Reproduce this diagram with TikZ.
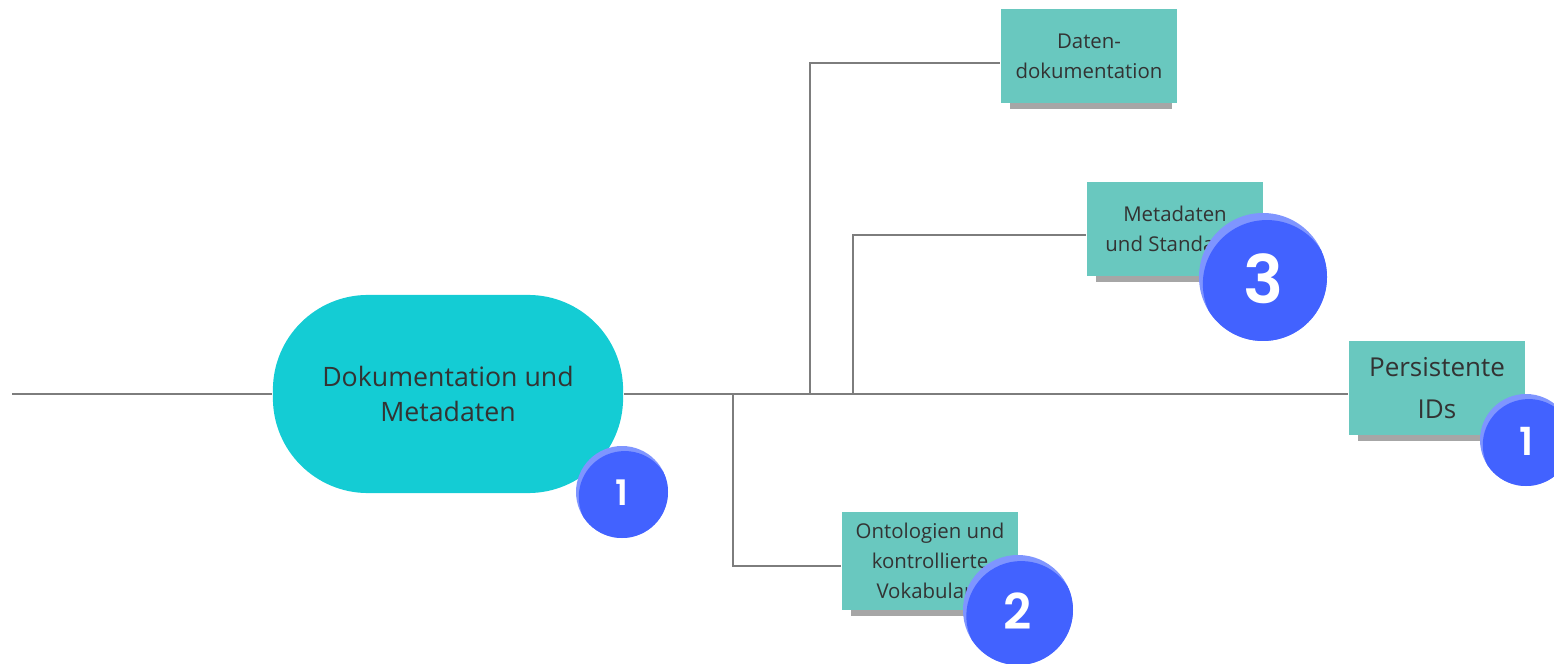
\documentclass[tikz,border=0pt]{standalone}
\usepackage{fontspec}
\setmainfont{Open Sans}
\newfontfamily\badgefont{Poppins}[UprightFont = * SemiBold]
\usepackage{xcolor}
\usetikzlibrary{shadows, calc}
\definecolor{topiccolor}{HTML}{14CCD4}
\definecolor{notecolor}{HTML}{69C8BF}
\definecolor{badgecolor}{HTML}{4262FF}
\definecolor{badgepeel}{HTML}{7F95FF}
\definecolor{linecolor}{HTML}{7D7D7D}
\definecolor{textcolor}{HTML}{333333}

\tikzset{
  topic/.style = {fill = topiccolor, rectangle, rounded corners = 0.95cm,
    minimum width = 3.5cm, minimum height = 1.98cm, align = center,
    text = textcolor, font = \fontsize{7.6}{10}\selectfont},
  note/.style = {fill = notecolor, rectangle, minimum width = 1.76cm,
    minimum height = 0.93cm, align = center, text = textcolor,
    font = \fontsize{5.8}{8.5}\selectfont,
    drop shadow = {shadow xshift = 0.5pt, shadow yshift = -3pt, shadow scale = 0.92,
      opacity = 0.35, fill = black}},
  branch/.style = {draw = linecolor, line width = 0.6pt},
  badgetext/.style = {text = white, inner sep = 0pt}
}

% badge: centre, radius (in px units), name, number, font size
\newcommand{\drawbadge}[5]{%
  \begin{scope}
    \fill [badgepeel] (#1) circle [radius = #2];
    \clip (#1) circle [radius = #2];
    \fill [badgecolor] ($(#1) + (0.06*#2, 0.11*#2)$) circle [radius = #2];
  \end{scope}
  \node [badgetext, font = \badgefont\fontsize{#5}{#5}\selectfont] (#3) at ($(#1) + (0, 0.02*#2)$) {#4};
}

\begin{document}
\begin{tikzpicture}[x = 0.01cm, y = -0.01cm]
        \useasboundingbox (0, 0) rectangle (1554, 664);

        % Nodes
        \node [topic] (thema) at (448, 394) {Dokumentation und\\Metadaten};
        \node [note] (daten) at (1089, 56) {Daten-\\dokumentation};
        \node [note] (standards) at (1175, 229) {Metadaten\\und Standards};
        \node [note, font = \fontsize{7.4}{12}\selectfont] (ids) at (1437, 388) {Persistente\\IDs};
        \node [note] (onto) at (930, 561) {Ontologien und\\kontrollierte\\Vokabulare};

        % Junctions on the main line
        \coordinate (start) at (12, 394);
        \coordinate (j1) at (733, 394);
        \coordinate (j2) at (810, 394);
        \coordinate (j3) at (853, 394);

        % Draw the links
        \draw [branch] (start) -- (thema.west);
        \draw [branch] (thema.east) -- (thema.east -| ids.west);
        \draw [branch] (j2) |- ($(daten.west) + (0, 7)$);
        \draw [branch] (j3) |- ($(standards.west) + (0, 6)$);
        \draw [branch] (j1) |- ($(onto.west) + (0, 5)$);

        % Badges
        \drawbadge{622, 492}{46}{b1}{1}{10}
        \drawbadge{1263, 277}{64}{b3}{3}{19}
        \drawbadge{1526, 440}{46}{b4}{1}{11}
        \drawbadge{1018, 610}{55}{b2}{2}{14}

    \end{tikzpicture}
\end{document}
